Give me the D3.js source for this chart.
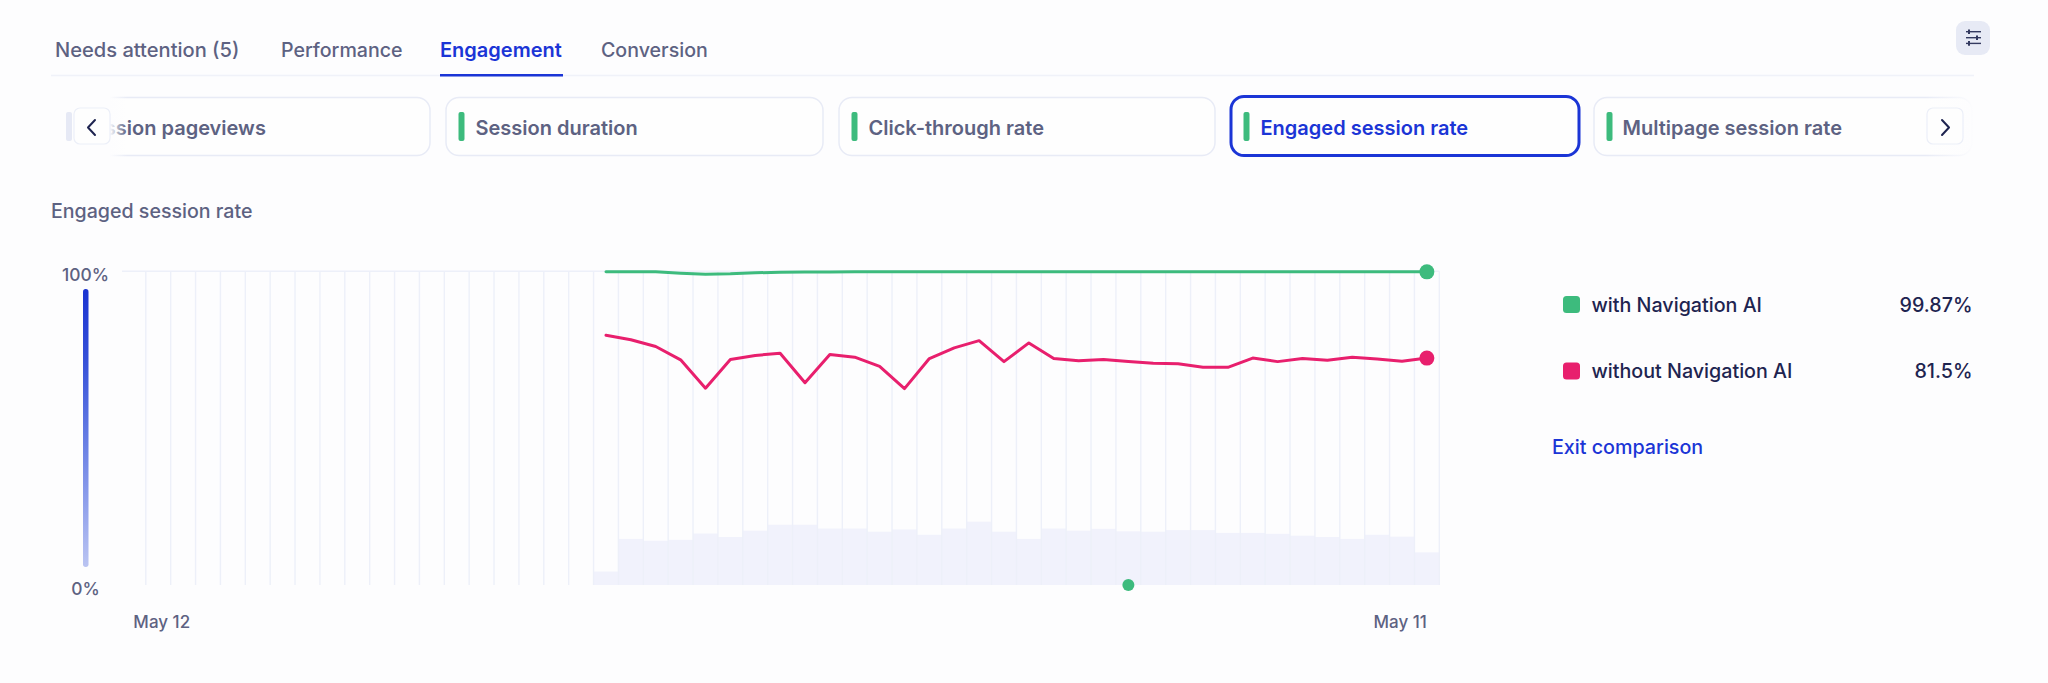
<!DOCTYPE html>
<html>
<head>
<meta charset="utf-8">
<script src="https://cdn.jsdelivr.net/npm/d3@7"></script>
<style>
  html, body { margin: 0; padding: 0; background: #fdfdfe; }
  svg { display: block; font-family: Inter, "Noto Sans", sans-serif; }
  .axis .domain, .axis line { display: none; }
  .axis text { font-family: Inter, "Noto Sans", sans-serif; }
</style>
</head>
<body>
<div id="chart"></div>
<script>
// Dashboard navigation
const tabLabels = ["Needs attention (5)", "Performance", "Engagement", "Conversion"];
const tabStarts = [55, 281, 440, 601];
const activeTab = "Engagement";
const cardLabels = ["Session pageviews", "Session duration", "Click-through rate", "Engaged session rate", "Multipage session rate"];
const cardEdges = [[58, 430], [446, 823], [839, 1215], [1231, 1579], [1594, 1972]];
const activeCard = "Engaged session rate";

// Weekly series: 52 weeks, with data only for the last 34
const weekCount = 52;
const firstDataWeek = 18;
const withAI = [99.87, 99.9, 99.9, 99.6, 99.4, 99.47, 99.67, 99.8, 99.85, 99.85, 99.87, 99.87, 99.87, 99.87, 99.87, 99.87, 99.87,
  99.87, 99.87, 99.87, 99.87, 99.87, 99.87, 99.87, 99.87, 99.87, 99.87, 99.87, 99.87, 99.87, 99.87, 99.87, 99.87, 99.87];
const withoutAI = [86.6, 85.6, 84.1, 81.1, 74.5, 81.2, 82.1, 82.6, 75.8, 82.3, 81.7, 79.6, 74.4, 81.4, 83.8, 85.4, 80.7,
  84.9, 81.4, 80.9, 81.2, 80.7, 80.3, 80.2, 79.4, 79.4, 81.5, 80.7, 81.4, 81.0, 81.7, 81.3, 80.8, 81.5];
const volume = [4.3, 14.7, 14.1, 14.4, 16.4, 15.3, 17.3, 19.2, 19.2, 18.0, 18.0, 17.0, 17.7, 16.0, 18.0, 20.2, 17.0,
  14.7, 18.0, 17.3, 17.9, 17.1, 17.0, 17.5, 17.5, 16.6, 16.6, 16.3, 15.7, 15.3, 14.7, 16.0, 15.4, 10.4];
const annotationWeek = 39;

// Axis and legend text
const yTicks = [0, 100];
const xTickLabels = new Map([[0, "May 12"], [51, "May 11"]]);
const legendRows = [
  { name: "with Navigation AI", value: "99.87%", color: "#3dbb7d" },
  { name: "without Navigation AI", value: "81.5%", color: "#e81f6d" }
];
const rampStops = ["#1a33d1", "#3550d8", "#5f77e2", "#8c9deb", "#bac4f2"];

const BLUE = "#1b35d6", SLATE = "#5d6282", NAVY = "#1e2450", GRID = "#edf0f9";
const width = 2048, height = 683;
const svg = d3.select("#chart").append("svg").attr("width", width).attr("height", height);
const defs = svg.append("defs");

// --- Tabs ---
const tabs = svg.append("g");
tabs.append("line").attr("x1", 51).attr("x2", 1974).attr("y1", 75.5).attr("y2", 75.5)
  .attr("stroke", "#f0f2f9").attr("stroke-width", 1.5);
tabs.selectAll("text").data(tabLabels).join("text")
  .attr("x", (d, i) => tabStarts[i]).attr("y", 50).attr("dominant-baseline", "central")
  .attr("font-size", d => d === activeTab ? 20 : (d === tabLabels[0] ? 20.1 : 19.6)).attr("font-weight", d => d === activeTab ? 600 : 500)
  .attr("fill", d => d === activeTab ? BLUE : SLATE).text(d => d);
tabs.append("rect").attr("x", 440).attr("y", 74).attr("width", 123).attr("height", 2.5).attr("fill", BLUE);

// --- Settings button ---
const settings = svg.append("g");
settings.append("rect").attr("x", 1956).attr("y", 21).attr("width", 34).attr("height", 34).attr("rx", 9).attr("fill", "#e7eaf5");
[[31.7, 1969], [37.7, 1977], [43.4, 1969]].forEach(([y, knob]) => {
  settings.append("line").attr("x1", 1966).attr("x2", 1981).attr("y1", y).attr("y2", y).attr("stroke", "#343a60").attr("stroke-width", 1.4);
  settings.append("line").attr("x1", knob).attr("x2", knob).attr("y1", y - 2.3).attr("y2", y + 2.3).attr("stroke", "#343a60").attr("stroke-width", 2);
});

// --- Metric cards ---
const cards = svg.append("g");
cardLabels.forEach((label, i) => {
  const [x0, x1] = cardEdges[i];
  const active = label === activeCard;
  const g = cards.append("g");
  g.append("rect").attr("x", x0).attr("y", active ? 96.5 : 97.5).attr("width", x1 - x0).attr("height", active ? 59 : 58)
    .attr("rx", 13).attr("fill", "#fefefe")
    .attr("stroke", active ? BLUE : "#e8ebf6").attr("stroke-width", active ? 3 : 1.5);
  if (i > 0) {
    g.append("rect").attr("x", x0 + 12.5).attr("y", 112).attr("width", 6).attr("height", 29).attr("rx", 2)
      .attr("fill", "#3dbb7d");
  }
  g.append("text").attr("x", i === 0 ? 80 : x0 + (i === 4 ? 28.5 : 29.5)).attr("y", 127.5).attr("dominant-baseline", "central")
    .attr("font-size", 20).attr("font-weight", 600)
    .attr("fill", active ? BLUE : SLATE).text(label);
});

// Fades where the card strip scrolls out of view
const fade = (id, x1, x2, hold) => {
  const g = defs.append("linearGradient").attr("id", id).attr("x1", x1).attr("x2", x2);
  g.append("stop").attr("offset", hold).attr("stop-color", "#fdfdfe").attr("stop-opacity", 1);
  g.append("stop").attr("offset", 1).attr("stop-color", "#fdfdfe").attr("stop-opacity", 0);
};
fade("fadeLeft", 0, 1, 0.76);
fade("fadeRight", 1, 0, 0);
cards.append("rect").attr("x", 55).attr("y", 94).attr("width", 72).attr("height", 64).attr("fill", "url(#fadeLeft)");
cards.append("rect").attr("x", 1925).attr("y", 94).attr("width", 50).attr("height", 64).attr("fill", "url(#fadeRight)");
// Accent of the card that has scrolled behind the left button
cards.append("rect").attr("x", 66).attr("y", 112).attr("width", 6).attr("height", 29).attr("rx", 2).attr("fill", "#e6e9f5");

// Scroll buttons
[[74, "M95 120 L88 127.5 L95 135"], [1927, "M1942 120 L1949 127.5 L1942 135"]].forEach(([x, path]) => {
  cards.append("rect").attr("x", x).attr("y", 108).attr("width", 36).attr("height", 36).attr("rx", 6)
    .attr("fill", "#fefefe").attr("stroke", "#eceff8").attr("stroke-width", 1.2);
  cards.append("path").attr("d", path).attr("fill", "none").attr("stroke", NAVY).attr("stroke-width", 2)
    .attr("stroke-linecap", "round").attr("stroke-linejoin", "round");
});

// --- Chart ---
svg.append("text").attr("x", 51).attr("y", 210.5).attr("dominant-baseline", "central")
  .attr("font-size", 19.6).attr("font-weight", 500).attr("fill", SLATE).text("Engaged session rate");

const yTop = 271.2, yBottom = 585, xLeft = 145.8, xRight = 1439.3;
const weeks = d3.range(weekCount);
const x = d3.scaleBand().domain(weeks).range([xLeft, xRight]);
const centre = i => x(i) + x.bandwidth() / 2;
// The rate axis only marks its ends and stretches the upper range
const y = d3.scalePow().exponent(1.585).domain([0, 100]).range([yBottom, yTop]);
// Session volume shares the plot height on its own linear scale
const yVolume = d3.scaleLinear().domain([0, 100]).range([yBottom, yTop]);

const plot = svg.append("g");
plot.selectAll("rect.volume").data(volume).join("rect").attr("class", "volume")
  .attr("x", (d, i) => x(firstDataWeek + i)).attr("width", x.bandwidth())
  .attr("y", d => yVolume(d)).attr("height", d => yBottom - yVolume(d))
  .attr("fill", "#f1f2fc");

plot.append("line").attr("x1", 122).attr("x2", xRight).attr("y1", yTop).attr("y2", yTop)
  .attr("stroke", GRID).attr("stroke-width", 1.5);
plot.selectAll("line.week").data(d3.range(weekCount + 1)).join("line").attr("class", "week")
  .attr("x1", d => xLeft + d * x.step()).attr("x2", d => xLeft + d * x.step())
  .attr("y1", yTop).attr("y2", yBottom)
  .attr("stroke", GRID).attr("stroke-width", 1.4);

const line = d3.line().x((d, i) => centre(firstDataWeek + i)).y(d => y(d)).curve(d3.curveLinear);
[[withAI, legendRows[0].color], [withoutAI, legendRows[1].color]].forEach(([series, color]) => {
  plot.append("path").attr("d", line(series)).attr("fill", "none").attr("stroke", color)
    .attr("stroke-width", 3).attr("stroke-linejoin", "round").attr("stroke-linecap", "round");
  plot.append("circle").attr("cx", centre(firstDataWeek + series.length - 1)).attr("cy", y(series[series.length - 1]))
    .attr("r", 7.5).attr("fill", color);
});

// Release marker sitting on the baseline
plot.append("circle").attr("cx", centre(annotationWeek)).attr("cy", y(0)).attr("r", 6).attr("fill", legendRows[0].color);

// Colour ramp beside the rate axis
const ramp = defs.append("linearGradient").attr("id", "ramp").attr("x1", 0).attr("x2", 0).attr("y1", 0).attr("y2", 1);
rampStops.forEach((c, i) => ramp.append("stop").attr("offset", i / (rampStops.length - 1)).attr("stop-color", c));
svg.append("rect").attr("x", 83).attr("y", 289).attr("width", 5.5).attr("height", 278).attr("rx", 2.7).attr("fill", "url(#ramp)");

// Axes
const yAxis = svg.append("g").attr("class", "axis").attr("transform", "translate(85.5,0)")
  .call(d3.axisLeft(y).tickValues(yTicks).tickSize(0).tickPadding(0).tickFormat(d => d + "%"));
yAxis.selectAll("text").attr("text-anchor", "middle").attr("font-size", 17.4).attr("font-weight", 500)
  .attr("fill", SLATE).attr("dy", "0.55em");

const xAxis = svg.append("g").attr("class", "axis").attr("transform", "translate(0,622)")
  .call(d3.axisBottom(x).tickValues([...xTickLabels.keys()]).tickSize(0).tickPadding(0).tickFormat(d => xTickLabels.get(d)));
xAxis.selectAll("text").attr("dy", null).attr("y", 0).attr("dominant-baseline", "central")
  .attr("font-size", 17).attr("font-weight", 500).attr("fill", SLATE)
  .attr("text-anchor", d => d === 0 ? "middle" : "end")
  .attr("dx", d => d === 0 ? 3.5 : 0);

// --- Legend ---
const legend = svg.append("g");
const rows = legend.selectAll("g").data(legendRows).join("g").attr("transform", (d, i) => `translate(0,${i === 0 ? 304.5 : 371})`);
rows.append("rect").attr("x", 1563).attr("y", -8.5).attr("width", 17).attr("height", 17).attr("rx", 3.5).attr("fill", d => d.color);
rows.append("text").attr("x", 1591.5).attr("dominant-baseline", "central").attr("font-size", 19.7).attr("font-weight", 500)
  .attr("fill", NAVY).text(d => d.name);
rows.append("text").attr("x", 1972.5).attr("text-anchor", "end").attr("dominant-baseline", "central").attr("font-size", 19.7).attr("font-weight", 500)
  .attr("fill", NAVY).text(d => d.value);
legend.append("text").attr("x", 1552).attr("y", 446.5).attr("dominant-baseline", "central").attr("font-size", 19.7).attr("font-weight", 500)
  .attr("fill", BLUE).text("Exit comparison");
</script>
</body>
</html>
